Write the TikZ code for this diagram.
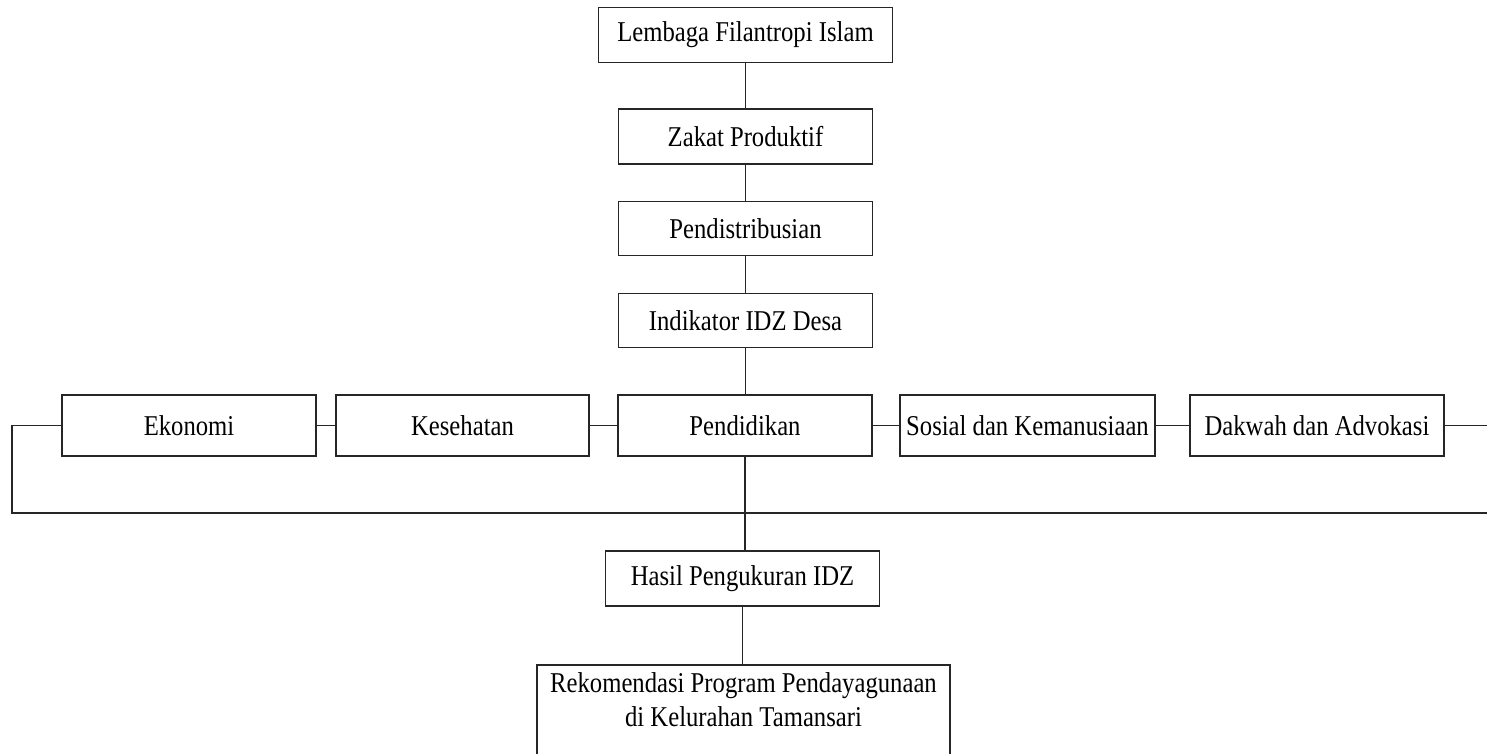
\documentclass[tikz,border=0pt]{standalone}
\usepackage{fontspec}
\setmainfont{Liberation Serif}[FakeStretch=0.86]
\begin{document}
\begin{tikzpicture}[x=1pt,y=-1pt,
  box/.style={draw=black!85,line width=1.7pt,inner sep=0pt,font=\fontsize{28.7}{34}\selectfont},
  conn/.style={draw=black!85,line width=1.7pt}]
\useasboundingbox (0,0) rectangle (1487,753);
\clip (0,0) rectangle (1487,753);
% vertical chain
\node[box,minimum width=294pt,minimum height=55pt] (lfi) at (745.5,35) {Lembaga Filantropi Islam};
\node[box,minimum width=254pt,minimum height=55pt] (zp) at (745.5,136.5) {Zakat Produktif};
\node[box,minimum width=254pt,minimum height=54pt] (pd) at (745.5,228.5) {Pendistribusian};
\node[box,minimum width=254pt,minimum height=54pt] (ind) at (745.5,320.5) {Indikator IDZ Desa};
% row
\node[box,minimum width=254pt,minimum height=61pt] (eko) at (189,425.5) {Ekonomi};
\node[box,minimum width=253pt,minimum height=61pt] (kes) at (462.5,425.5) {Kesehatan};
\node[box,minimum width=254pt,minimum height=61pt] (pen) at (745,425.5) {Pendidikan};
\node[box,minimum width=255pt,minimum height=61pt] (sos) at (1027.5,425.5) {Sosial dan Kemanusiaan};
\node[box,minimum width=254pt,minimum height=61pt] (dak) at (1317,425.5) {Dakwah dan Advokasi};
% lower
\node[box,minimum width=274pt,minimum height=55pt] (has) at (742.5,578.5) {Hasil Pengukuran IDZ};
\node[box,minimum width=413pt,minimum height=120pt,anchor=north] (rek) at (743.5,664) {};
\node[font=\fontsize{28.7}{34}\selectfont,align=center,anchor=north,inner sep=0pt] (rekt) at (743.5,672) {Rekomendasi Program Pendayagunaan\\di Kelurahan Tamansari};
% connectors
\coordinate (bl) at (12.3,513);
\coordinate (br) at (1500,513);
\coordinate (rr) at (1500,425.5);
\draw[conn] (lfi.south) -- (zp.north);
\draw[conn] (zp.south) -- (pd.north);
\draw[conn] (pd.south) -- (ind.north);
\draw[conn] (ind.south) -- (ind.south |- pen.north);
\draw[conn] (eko.east) -- (kes.west);
\draw[conn] (kes.east) -- (pen.west);
\draw[conn] (pen.east) -- (sos.west);
\draw[conn] (sos.east) -- (dak.west);
\draw[conn] (dak.east) -- (rr);
\draw[conn] (eko.west) -| (bl) -- (br);
\draw[conn] (pen.south) -- (pen.south |- has.north);
\draw[conn] (has.south) -- (has.south |- rek.north);
\end{tikzpicture}
\end{document}
